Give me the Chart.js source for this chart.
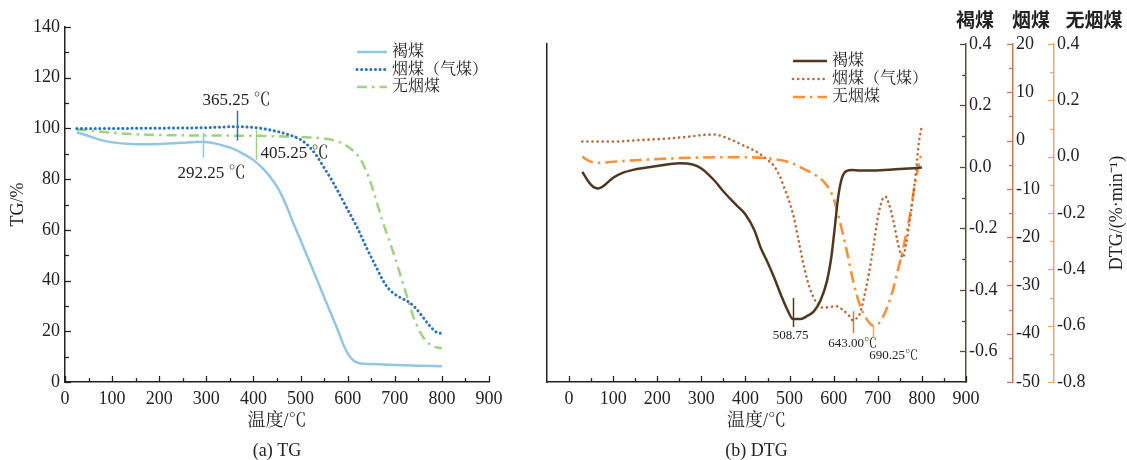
<!DOCTYPE html>
<html>
<head>
<meta charset="utf-8">
<script src="https://cdn.jsdelivr.net/npm/chart.js@4"></script>
<style>
html, body { margin: 0; padding: 0; background: #fff; overflow: hidden; }
#wrap { position: relative; width: 1127px; height: 460px; }
#tg  { position: absolute; left: 0; top: 0; }
#dtg { position: absolute; left: 540px; top: 0; }
</style>
</head>
<body>
<div id="wrap">
  <canvas id="tg" width="540" height="470"></canvas>
  <canvas id="dtg" width="587" height="470"></canvas>
</div>
<script>
// series names (legend) and axis headers
const SERIES_NAMES = ["褐煤", "烟煤（气煤）", "无烟煤"];
const AXIS_NAMES   = ["褐煤", "烟煤", "无烟煤"];

// ---- TG (%) ----
const TG_T_LIGNITE = [25,50,75,100,150,200,250,292,320,340,360,380,400,420,440,455,470,485,500,520,540,560,580,595,610,625,650,700,750,800];
const TG_LIGNITE   = [98.5,97,95.5,94.5,93.8,93.9,94.4,94.7,94.0,93,91.7,89.8,87.5,84.2,79.8,75.5,69.5,62.5,56,47,38,29,20,13,8.8,7.4,7.1,6.7,6.4,6.2];

const TG_T_BITUM = [25,100,200,300,340,365,390,410,430,450,470,490,505,520,535,550,565,580,600,620,640,660,680,695,710,730,745,760,775,790,800];
const TG_BITUM   = [100,100,100.1,100.3,100.6,100.7,100.5,100.2,99.6,98.8,97.8,96.5,95,92.5,89,84.5,80,75,68,61,53,45.5,38.5,35.3,33.5,31.5,29,25.5,22,19.5,19.2];

const TG_T_ANTHR = [25,50,100,150,200,300,400,450,500,540,570,590,610,625,640,650,660,673,685,697,708,718,730,739,748,757,766,775,790,800];
const TG_ANTHR   = [99.6,99.2,98.3,97.7,97.4,97.2,97.1,96.9,96.6,96.2,95.3,94,91.5,88.5,83,78,72,64,57.5,51,44.5,38.5,31.3,26,22,18.6,16.3,14.8,13.6,13.3];

// ---- DTG (%/min), each on its own axis ----
const DTG_T_LIGNITE = [30,45,55,66,80,100,120,150,200,250,280,300,330,350,380,400,420,435,450,465,480,495,508,525,540,555,570,585,595,603,610,617,625,640,660,690,740,800];
const DTG_LIGNITE   = [-0.016,-0.05,-0.065,-0.07,-0.06,-0.035,-0.02,-0.008,0.003,0.012,0.008,-0.005,-0.045,-0.08,-0.125,-0.155,-0.205,-0.265,-0.31,-0.36,-0.415,-0.465,-0.495,-0.495,-0.485,-0.47,-0.435,-0.37,-0.29,-0.19,-0.1,-0.045,-0.018,-0.01,-0.012,-0.012,-0.008,-0.002];

const DTG_T_BITUM = [30,100,160,220,270,310,330,350,370,390,410,430,450,465,478,490,500,510,520,530,540,550,560,575,590,605,620,635,643,652,660,670,680,690,700,710,717,725,735,745,752,757,763,772,780,787,793,800];
const DTG_BITUM   = [-0.2,-0.2,0.1,0.4,0.8,1.2,1.25,0.8,0.1,-0.8,-1.6,-2.6,-4,-5.3,-7.4,-10.3,-12.8,-16,-20.5,-25,-28.8,-31.6,-33.4,-34.6,-34.5,-34.3,-35,-36.3,-37.2,-36.8,-35.7,-32,-27.5,-22,-16,-12.3,-11.6,-13,-16.5,-21,-23.5,-24.3,-22,-17,-11.6,-6,-0.5,3];

const DTG_T_ANTHR = [30,45,66,100,160,220,300,400,460,500,530,555,575,590,600,614,629,644,659,674,690,700,712,725,735,746,757,765,772,784,795,800];
const DTG_ANTHR   = [0.0,-0.015,-0.022,-0.018,-0.012,-0.007,-0.003,-0.002,-0.008,-0.02,-0.042,-0.062,-0.085,-0.115,-0.15,-0.23,-0.33,-0.44,-0.525,-0.575,-0.6,-0.595,-0.568,-0.52,-0.47,-0.4,-0.33,-0.27,-0.215,-0.1,-0.015,0.02];

// peak temperatures marked on the plots
const TG_PEAKS   = [292.25, 365.25, 405.25];
const TG_PEAK_LABELS = ["292.25 ℃", "365.25 ℃", "405.25 ℃"];
const DTG_PEAKS  = [508.75, 643.00, 690.25];
const DTG_PEAK_LABELS = ["508.75", "643.00℃", "690.25℃"];

// tick values
const X_TICKS        = [0,100,200,300,400,500,600,700,800,900];
const X_MINOR        = [50,150,250,350,450,550,650,750,850];
const TG_Y_TICKS     = [0,20,40,60,80,100,120,140];
const TG_Y_MINOR     = [10,30,50,70,90,110,130];
const Y1_TICKS = [0.4,0.2,0,-0.2,-0.4,-0.6];
const Y1_MINOR = [0.3,0.1,-0.1,-0.3,-0.5];
const Y2_TICKS = [20,10,0,-10,-20,-30,-40,-50];
const Y2_MINOR = [15,5,-5,-15,-25,-35,-45];
const Y3_TICKS = [0.4,0.2,0,-0.2,-0.4,-0.6,-0.8];
const Y3_MINOR = [0.3,0.1,-0.1,-0.3,-0.5,-0.7];

const SERIF = '"Liberation Serif", "Noto Serif CJK SC", "Noto Sans CJK SC", serif';
const INK = "#222";

Chart.defaults.font.family = SERIF;
Chart.defaults.font.size = 18;
Chart.defaults.color = INK;

const pts = (xs, ys) => xs.map((x, i) => ({ x, y: ys[i] }));

function interp(xs, ys, t) {
    for (let i = 1; i < xs.length; i++) {
        if (t <= xs[i]) {
            const f = (t - xs[i - 1]) / (xs[i] - xs[i - 1]);
            return ys[i - 1] + f * (ys[i] - ys[i - 1]);
        }
    }
    return ys[ys.length - 1];
}

// ticks drawn inward from the axis line
const inwardTicks = {
    id: "inwardTicks",
    afterDraw(chart, args, opts) {
        const ctx = chart.ctx;
        Object.entries(opts.axes || {}).forEach(([id, t]) => {
            const s = chart.scales[id];
            ctx.save();
            ctx.strokeStyle = t.color;
            ctx.lineWidth = 1.3;
            const draw = (vals, len) => vals.forEach(v => {
                const p = Math.round(s.getPixelForValue(v)) + 0.5;
                ctx.beginPath();
                if (s.isHorizontal()) { ctx.moveTo(p, s.top); ctx.lineTo(p, s.top - len); }
                else if (s.position === "left") { ctx.moveTo(s.right, p); ctx.lineTo(s.right + len, p); }
                else { ctx.moveTo(s.left, p); ctx.lineTo(s.left - len, p); }
                ctx.stroke();
            });
            draw(t.major, 6);
            draw(t.minor, 4);
            ctx.restore();
        });
    }
};

// vertical marker at each peak plus its label
const peakMarks = {
    id: "peakMarks",
    afterDatasetsDraw(chart, args, opts) {
        const ctx = chart.ctx;
        const xs = chart.scales.x;
        ctx.save();
        opts.items.forEach(m => {
            const ds = chart.data.datasets[m.ds];
            const ys = chart.scales[ds.yAxisID || "y"];
            const val = interp(ds.data.map(p => p.x), ds.data.map(p => p.y), m.t);
            const px = Math.round(xs.getPixelForValue(m.t)) + 0.5;
            const py = ys.getPixelForValue(val);
            ctx.strokeStyle = m.color;
            ctx.lineWidth = 1.5;
            ctx.beginPath();
            ctx.moveTo(px, py - m.up);
            ctx.lineTo(px, py + m.down);
            ctx.stroke();
            ctx.fillStyle = INK;
            ctx.font = opts.font;
            ctx.textAlign = m.align || "center";
            ctx.textBaseline = "middle";
            ctx.fillText(m.label, px + m.dx, py + m.dy);
        });
        ctx.restore();
    }
};

// legend drawn inside the plot area
const boxLegend = {
    id: "boxLegend",
    afterDraw(chart, args, opts) {
        const ctx = chart.ctx;
        ctx.save();
        ctx.font = opts.font;
        ctx.textBaseline = "middle";
        chart.data.datasets.forEach((ds, i) => {
            const y = opts.y + i * opts.rowGap;
            ctx.strokeStyle = ds.borderColor;
            ctx.lineWidth = ds.borderWidth;
            ctx.lineCap = ds.borderCapStyle || "butt";
            ctx.setLineDash(ds.borderDash || []);
            ctx.beginPath();
            ctx.moveTo(opts.x, y);
            ctx.lineTo(opts.x + opts.sample, y);
            ctx.stroke();
            ctx.setLineDash([]);
            ctx.fillStyle = INK;
            ctx.fillText(ds.label, opts.x + opts.sample + 5, y);
        });
        ctx.restore();
    }
};

// axis headers and rotated DTG title on the right chart
const sideText = {
    id: "sideText",
    afterDraw(chart) {
        const ctx = chart.ctx;
        ctx.save();
        ctx.fillStyle = INK;
        ctx.textAlign = "center";
        ctx.textBaseline = "middle";
        ctx.font = '600 19px "Noto Sans CJK SC", sans-serif';
        const offs = [9, 18, 40];
        ["y1", "y2", "y3"].forEach((id, i) => {
            ctx.fillText(AXIS_NAMES[i], chart.scales[id].left + offs[i], 20);
        });
        ctx.font = "18px " + SERIF;
        ctx.translate(chart.width - 10, (chart.chartArea.top + chart.chartArea.bottom) / 2);
        ctx.rotate(-Math.PI / 2);
        ctx.fillText("DTG/(%·min⁻¹)", 0, 0);
        ctx.restore();
    }
};

const setTicks = list => s => { s.ticks = list.map(v => ({ value: v })); };

// ---------- (a) TG ----------
new Chart(document.getElementById("tg"), {
    type: "line",
    data: {
        datasets: [
            { label: SERIES_NAMES[0], data: pts(TG_T_LIGNITE, TG_LIGNITE), borderColor: "#93c6e0", borderWidth: 2.5 },
            { label: SERIES_NAMES[1], data: pts(TG_T_BITUM, TG_BITUM), borderColor: "#2c72b4", borderWidth: 3,
              borderDash: [0.1, 4.5], borderCapStyle: "round" },
            { label: SERIES_NAMES[2], data: pts(TG_T_ANTHR, TG_ANTHR), borderColor: "#9fd17f", borderWidth: 2.5,
              borderDash: [10, 5, 2.5, 5] }
        ]
    },
    options: {
        responsive: false,
        animation: false,
        devicePixelRatio: 1,
        layout: { padding: { top: 27, right: 51, left: 0, bottom: 0 } },
        elements: { point: { radius: 0 }, line: { cubicInterpolationMode: "monotone", fill: false } },
        plugins: {
            legend: { display: false },
            tooltip: { enabled: false },
            inwardTicks: { axes: {
                x: { major: X_TICKS, minor: X_MINOR, color: INK },
                y: { major: TG_Y_TICKS, minor: TG_Y_MINOR, color: INK }
            } },
            peakMarks: {
                font: "17px " + SERIF,
                items: [
                    { ds: 0, t: TG_PEAKS[0], label: TG_PEAK_LABELS[0], color: "#93c6e0", up: 9,  down: 16, dx: 8,  dy: 32 },
                    { ds: 1, t: TG_PEAKS[1], label: TG_PEAK_LABELS[1], color: "#2c72b4", up: 16, down: 14, dx: -1, dy: -26 },
                    { ds: 2, t: TG_PEAKS[2], label: TG_PEAK_LABELS[2], color: "#9fd17f", up: 6,  down: 24, dx: 4,  dy: 18, align: "left" }
                ]
            },
            boxLegend: { x: 357, y: 52, rowGap: 17.5, sample: 30, font: "16px " + SERIF }
        },
        scales: {
            x: {
                type: "linear", min: 0, max: 900,
                grid: { display: false, drawTicks: false },
                border: { color: INK, width: 1.5 },
                ticks: { padding: 6 },
                afterBuildTicks: setTicks(X_TICKS),
                afterFit: s => { s.height = 88; },
                title: { display: true, text: ["温度/℃", "(a) TG"], font: { size: 18, lineHeight: 1.7 }, padding: { top: 0, bottom: 3 } }
            },
            y: {
                min: 0, max: 140,
                grid: { display: false, drawTicks: false },
                border: { color: INK, width: 1.5 },
                ticks: { padding: 5 },
                afterBuildTicks: setTicks(TG_Y_TICKS),
                afterFit: s => { s.width = 65; },
                title: { display: true, text: "TG/%", padding: { top: 7, bottom: 0 } }
            }
        }
    },
    plugins: [inwardTicks, peakMarks, boxLegend]
});

// ---------- (b) DTG ----------
const Y1_COLOR = "#5e4a38", Y2_COLOR = "#c47b52", Y3_COLOR = "#f7a75e";
const yAxis = (min, max, color, ticks, weight, width, fmt) => ({
    position: "right", min, max, weight,
    grid: { display: false, drawTicks: false },
    border: { color, width: 1.5 },
    ticks: { padding: 3, callback: fmt },
    afterBuildTicks: setTicks(ticks),
    afterFit: s => { s.width = width; }
});

new Chart(document.getElementById("dtg"), {
    type: "line",
    data: {
        datasets: [
            { label: SERIES_NAMES[0], yAxisID: "y1", data: pts(DTG_T_LIGNITE, DTG_LIGNITE), borderColor: "#4f3822", borderWidth: 2.5 },
            { label: SERIES_NAMES[1], yAxisID: "y2", data: pts(DTG_T_BITUM, DTG_BITUM), borderColor: "#b86a3c", borderWidth: 2.6,
              borderDash: [0.1, 5], borderCapStyle: "round" },
            { label: SERIES_NAMES[2], yAxisID: "y3", data: pts(DTG_T_ANTHR, DTG_ANTHR), borderColor: "#f6913b", borderWidth: 2.6,
              borderDash: [12, 5, 2.5, 5] }
        ]
    },
    options: {
        responsive: false,
        animation: false,
        devicePixelRatio: 1,
        layout: { padding: { top: 44, right: 0, left: 0, bottom: 0 } },
        elements: { point: { radius: 0 }, line: { cubicInterpolationMode: "monotone", fill: false } },
        plugins: {
            legend: { display: false },
            tooltip: { enabled: false },
            inwardTicks: { axes: {
                x:  { major: X_TICKS, minor: X_MINOR, color: INK },
                y1: { major: Y1_TICKS, minor: Y1_MINOR, color: Y1_COLOR },
                y2: { major: Y2_TICKS, minor: Y2_MINOR, color: Y2_COLOR },
                y3: { major: Y3_TICKS, minor: Y3_MINOR, color: Y3_COLOR }
            } },
            peakMarks: {
                font: "13px " + SERIF,
                items: [
                    { ds: 0, t: DTG_PEAKS[0], label: DTG_PEAK_LABELS[0], color: "#4f3822", up: 21, down: 8,  dx: -3, dy: 17 },
                    { ds: 1, t: DTG_PEAKS[1], label: DTG_PEAK_LABELS[1], color: "#c47b52", up: 9,  down: 13, dx: -1, dy: 23 },
                    { ds: 2, t: DTG_PEAKS[2], label: DTG_PEAK_LABELS[2], color: "#f7a75e", up: 0,  down: 12, dx: 20, dy: 30 }
                ]
            },
            boxLegend: { x: 253, y: 61, rowGap: 18, sample: 34, font: "16px " + SERIF }
        },
        scales: {
            x: {
                type: "linear", min: -50, max: 900,
                grid: { display: false, drawTicks: false },
                border: { color: INK, width: 1.5 },
                ticks: { padding: 6 },
                afterBuildTicks: setTicks(X_TICKS),
                afterFit: s => { s.height = 88; },
                title: { display: true, text: ["温度/℃", "(b) DTG"], font: { size: 18, lineHeight: 1.7 }, padding: { top: 0, bottom: 3 } }
            },
            yF: {
                position: "left", min: 0, max: 1,
                grid: { display: false, drawTicks: false },
                border: { color: INK, width: 1.5 },
                ticks: { display: false },
                afterFit: s => { s.width = 7; }
            },
            y1: yAxis(-0.7, 0.4, Y1_COLOR, Y1_TICKS, 0, 47, v => v.toFixed(1)),
            y2: yAxis(-50, 20, Y2_COLOR, Y2_TICKS, 1, 41, v => String(v)),
            y3: yAxis(-0.8, 0.4, Y3_COLOR, Y3_TICKS, 2, 73, v => v.toFixed(1))
        }
    },
    plugins: [inwardTicks, peakMarks, boxLegend, sideText]
});
</script>
</body>
</html>
